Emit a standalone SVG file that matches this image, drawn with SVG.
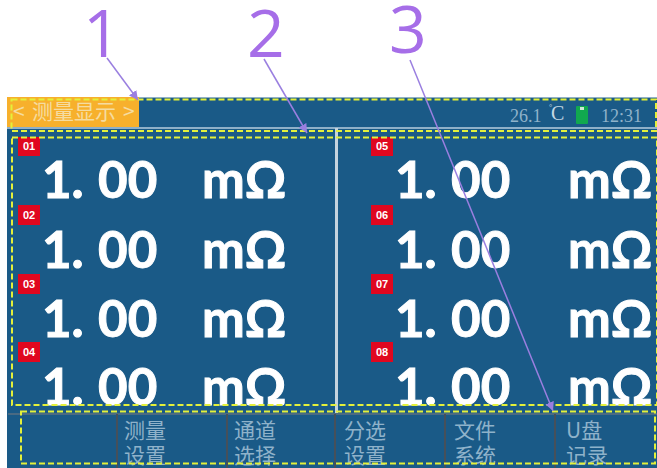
<svg xmlns="http://www.w3.org/2000/svg" width="657" height="468" viewBox="0 0 657 468">
<style>
.big{font-family:"Lato","Open Sans",sans-serif;font-weight:700;font-size:51px;fill:#fff;stroke:#fff;stroke-width:1;word-spacing:2px}
.badge{fill:#e0071f}
.bt{font-family:"Liberation Sans",sans-serif;font-weight:700;font-size:11px;fill:#fff;text-anchor:middle}
.dash{fill:none;stroke:#e4f03a;stroke-width:2;stroke-dasharray:6 3}
.menu{font-family:"Noto Sans CJK SC",sans-serif;font-size:21px;fill:#8fb2ca}
.sep{stroke:#46505a;stroke-width:2}
.num{font-family:"Open Sans",sans-serif;font-size:66px;fill:#a66ee8}
.lead{stroke:#9a7fe0;stroke-width:1.5;fill:none;marker-end:url(#a)}
.ser{font-family:"Liberation Serif",serif;font-size:18px;fill:#8fb2ca}
</style>
<defs>
<marker id="a" markerWidth="7" markerHeight="7" refX="6" refY="3" orient="auto"><path d="M0 0L6 3L0 6z" fill="#9a7fe0"/></marker>
</defs>
<rect width="657" height="468" fill="#fff"/>
<g id="screen">
<rect x="7" y="97" width="650" height="371" fill="#1a5a87"/>
<rect x="7" y="97" width="650" height="1" fill="#8fb0c8"/>
<rect x="7" y="127" width="650" height="2" fill="#8fb0c8"/>
<rect x="335" y="128" width="3" height="285" fill="#c5d3de"/>
<rect x="8" y="413" width="649" height="2" fill="#4a6a82"/>
</g>
<g id="header">
<rect x="7" y="97" width="132" height="30" fill="#f7b02c"/>
<text y="119" font-family="Noto Sans CJK SC,sans-serif" font-size="21" fill="#f5dca0"><tspan x="13">&lt;</tspan><tspan x="32">测量显示</tspan><tspan x="123">&gt;</tspan></text>
<text class="ser" x="510" y="122">26.1</text>
<text class="ser" y="120"><tspan x="549" y="110" font-size="8" fill="#c5d8e4">°</tspan><tspan x="551" y="120" font-size="20" fill="#c5d8e4">C</tspan></text>
<rect x="576" y="106" width="12" height="18" rx="1" fill="#11a84f"/>
<rect x="580" y="107" width="4" height="3" fill="#cfe8d8"/>
<text class="ser" x="601" y="122">12:31</text>
</g>
<g id="readings-left">
<rect class="badge" x="18" y="137" width="22" height="19"/><text class="bt" x="29" y="150">01</text>
<rect class="badge" x="18" y="205" width="22" height="20"/><text class="bt" x="29" y="219">02</text>
<rect class="badge" x="18" y="274" width="22" height="20"/><text class="bt" x="29" y="288">03</text>
<rect class="badge" x="18" y="342" width="22" height="20"/><text class="bt" x="29" y="356">04</text>
<text class="big" x="42" y="198">1. 00</text><text class="big" x="202" y="198">mΩ</text>
<text class="big" x="42" y="268">1. 00</text><text class="big" x="202" y="268">mΩ</text>
<text class="big" x="42" y="337">1. 00</text><text class="big" x="202" y="337">mΩ</text>
<text class="big" x="42" y="405">1. 00</text><text class="big" x="202" y="405">mΩ</text>
</g>
<g id="readings-right">
<rect class="badge" x="371" y="137" width="22" height="19"/><text class="bt" x="382" y="150">05</text>
<rect class="badge" x="371" y="205" width="22" height="20"/><text class="bt" x="382" y="219">06</text>
<rect class="badge" x="371" y="274" width="22" height="20"/><text class="bt" x="382" y="288">07</text>
<rect class="badge" x="371" y="342" width="22" height="20"/><text class="bt" x="382" y="356">08</text>
<text class="big" x="395" y="198">1. 00</text><text class="big" x="568" y="198">mΩ</text>
<text class="big" x="395" y="268">1. 00</text><text class="big" x="568" y="268">mΩ</text>
<text class="big" x="395" y="337">1. 00</text><text class="big" x="568" y="337">mΩ</text>
<text class="big" x="395" y="405">1. 00</text><text class="big" x="568" y="405">mΩ</text>
</g>
<g id="menu">
<line class="sep" x1="117" y1="414" x2="117" y2="468"/>
<line class="sep" x1="227" y1="414" x2="227" y2="468"/>
<line class="sep" x1="335" y1="414" x2="335" y2="468"/>
<line class="sep" x1="445" y1="414" x2="445" y2="468"/>
<line class="sep" x1="555" y1="414" x2="555" y2="468"/>
<text class="menu" x="124" y="438">测量</text><text class="menu" x="124" y="463">设置</text>
<text class="menu" x="234" y="438">通道</text><text class="menu" x="234" y="463">选择</text>
<text class="menu" x="344" y="438">分选</text><text class="menu" x="344" y="463">设置</text>
<text class="menu" x="454" y="438">文件</text><text class="menu" x="454" y="463">系统</text>
<text class="menu" x="566" y="438">U盘</text><text class="menu" x="566" y="463">记录</text>
</g>
<g id="regions">
<rect class="dash" x="11.5" y="99.5" width="644.5" height="31.5"/>
<rect class="dash" x="12" y="137.5" width="645" height="267.5"/>
<rect class="dash" x="21" y="411.5" width="634" height="52"/>
</g>
<g id="connectors">
<line class="lead" x1="107" y1="58" x2="138" y2="100"/>
<line class="lead" x1="264" y1="59" x2="307" y2="133"/>
<line class="lead" x1="410" y1="60" x2="553" y2="411"/>
</g>
<g id="labels">
<text class="num" x="83" y="57">1</text>
<text class="num" x="247" y="57">2</text>
<text class="num" x="389" y="53">3</text>
</g>
</svg>
